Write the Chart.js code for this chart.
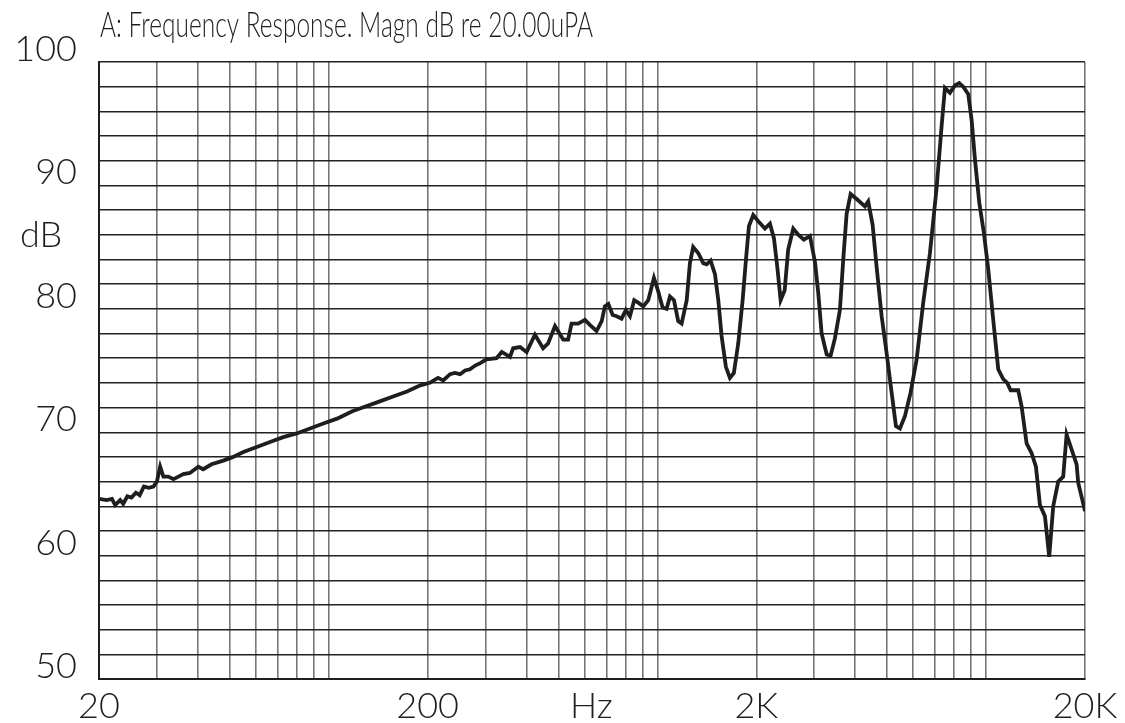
<!DOCTYPE html>
<html>
<head>
<meta charset="utf-8">
<script src="https://cdn.jsdelivr.net/npm/chart.js@4.4.1/dist/chart.umd.min.js"></script>
<style>
    html, body { margin: 0; padding: 0; background: #fff; }
    #wrap { width: 1125px; height: 723px; position: relative; }
</style>
</head>
<body>
<div id="wrap"><canvas id="fr-chart"></canvas></div>
<script>
// ── Data ────────────────────────────────────────────────────────────────────
const freqs = [
    20, 21.1, 21.9, 22.4, 23.2, 23.7, 24.4, 25.1, 25.9, 26.6, 27.4, 28.3, 29.3, 30.0,
    30.7, 31.4, 32.5, 33.7, 34.9, 36.1, 37.8, 40.1, 41.5, 44.0, 47.8, 51.2, 55.0, 60.4,
    66.3, 72.7, 79.9, 87.7, 96.3, 106, 118, 130, 143, 157, 173, 190, 203, 215, 223, 234,
    242, 251, 260, 269, 279, 289, 302, 324, 336, 356, 364, 382, 400, 424, 449, 465, 488,
    517, 535, 548, 574, 602, 623, 653, 677, 692, 709, 731, 752, 778, 802, 825, 850, 874,
    906, 938, 976, 1006, 1037, 1067, 1092, 1123, 1157, 1185, 1228, 1256, 1285, 1332,
    1379, 1412, 1452, 1497, 1532, 1568, 1616, 1662, 1709, 1762, 1817, 1860, 1899, 1957,
    2027, 2124, 2200, 2263, 2316, 2371, 2439, 2500, 2590, 2682, 2791, 2912, 3016, 3086,
    3160, 3274, 3366, 3468, 3592, 3677, 3765, 3872, 4039, 4280, 4380, 4517, 4645, 4812,
    4983, 5161, 5318, 5470, 5664, 5893, 6148, 6439, 6748, 7072, 7324, 7497, 7764, 8039,
    8286, 8522, 8827, 9038, 9252, 9536, 9854, 10154, 10516, 10891, 11279, 11599, 11876,
    12526, 12826, 13285, 13760, 14182, 14586, 15103, 15566, 16008, 16578, 17170, 17580,
    18207, 18860, 19070, 20000
];
const levels = [
    64.6, 64.5, 64.6, 64.1, 64.5, 64.2, 64.8, 64.7, 65.1, 64.9, 65.6, 65.5, 65.6, 66.0,
    67.2, 66.4, 66.4, 66.2, 66.4, 66.6, 66.7, 67.2, 67.0, 67.4, 67.7, 68.0, 68.4, 68.8,
    69.2, 69.6, 69.9, 70.3, 70.7, 71.1, 71.7, 72.1, 72.5, 72.9, 73.3, 73.8, 74.0, 74.4, 74.2, 74.7,
    74.8, 74.7, 75.0, 75.1, 75.4, 75.6, 75.9, 76.0, 76.5, 76.1, 76.8, 76.9, 76.5, 77.9, 76.8, 77.2, 78.6,
    77.5, 77.5, 78.8, 78.8, 79.1, 78.7, 78.2, 79.0, 80.2, 80.4, 79.5, 79.4, 79.2, 79.9, 79.4, 80.7, 80.5,
    80.2, 80.7, 82.5, 81.4, 80.1, 80.0, 81.0, 80.7, 79.0, 78.8, 80.7, 83.7, 85.0, 84.5,
    83.7, 83.6, 83.9, 82.8, 80.7, 77.8, 75.3, 74.4, 74.8, 77.2, 80.7, 84.0, 86.7, 87.6,
    87.1, 86.5, 86.9, 85.7, 83.4, 80.7, 81.5, 84.8, 86.5, 86.0, 85.6, 85.9, 83.8, 81.3,
    78.0, 76.3, 76.2, 77.6, 79.9, 84.0, 87.7, 89.3, 88.9, 88.3, 88.7, 86.8, 83.4, 79.4,
    76.4, 73.2, 70.5, 70.3, 71.3, 73.2, 75.9, 80.5, 84.5, 89.8, 94.8, 97.9, 97.5, 98.1,
    98.3, 98.0, 97.4, 95.3, 92.1, 88.6, 86.1, 83.2, 79.1, 75.1, 74.3, 74.0, 73.4,
    73.4, 72.1, 69.1, 68.3, 67.2, 64.1, 63.2, 59.9, 64.0, 66.0, 66.4, 69.8,
    68.6, 67.4, 65.9, 63.6
];

// vertical grid at every 1..9 step of each decade, 20 Hz to 20 kHz
const gridFreqs = [
    20, 30, 40, 50, 60, 70, 80, 90, 100,
    200, 300, 400, 500, 600, 700, 800, 900, 1000,
    2000, 3000, 4000, 5000, 6000, 7000, 8000, 9000, 10000, 20000
];
const xTickValues = [20, 200, 2000, 20000];
const xTickLabels = ['20', '200', '2K', '20K'];
const yTickValues = [100, 90, 80, 70, 60, 50];

const titleText = 'A: Frequency Response. Magn dB re 20.00uPA';
const xUnit = 'Hz';
const yUnit = 'dB';

const INK = '#1e1e1e';
const LABEL_FONT = '300 36px Lato';

// ── Plotter-style text drawn around the frame ─────────────────────────────
const plotterLabels = {
    id: 'plotterLabels',
    afterDraw(chart) {
        const { ctx, chartArea, scales: { x, y } } = chart;
        ctx.save();
        ctx.fillStyle = INK;
        ctx.font = LABEL_FONT;
        ctx.textBaseline = 'alphabetic';

        // y labels sit just above their grid line
        ctx.textAlign = 'right';
        yTickValues.forEach(v => ctx.fillText(String(v), chartArea.left - 22, y.getPixelForValue(v) - 1));

        ctx.textAlign = 'left';
        ctx.fillText(yUnit, 20, y.getPixelForValue(84.5) - 6);

        // x labels centred under their grid line
        ctx.textAlign = 'center';
        xTickValues.forEach((v, i) => ctx.fillText(xTickLabels[i], x.getPixelForValue(v), chartArea.bottom + 39));
        ctx.fillText(xUnit, x.getPixelForValue(630), chartArea.bottom + 39);

        // condensed title
        ctx.font = '300 35px Lato';
        ctx.textAlign = 'left';
        const w = ctx.measureText(titleText).width;
        ctx.translate(chartArea.left + 1, 37);
        ctx.scale(493 / w, 1);
        ctx.fillText(titleText, 0, 0);
        ctx.restore();
    }
};

new Chart(document.getElementById('fr-chart'), {
    type: 'scatter',
    data: {
        datasets: [{
            data: freqs.map((f, i) => ({ x: f, y: levels[i] })),
            showLine: true,
            borderColor: INK,
            borderWidth: 3.8,
            pointRadius: 0,
            tension: 0,
        }],
    },
    options: {
        responsive: true,
        maintainAspectRatio: false,
        animation: false,
        layout: { padding: { left: 99, right: 40, top: 62, bottom: 44 } },
        plugins: {
            legend: { display: false },
            tooltip: { enabled: false },
        },
        scales: {
            x: {
                type: 'logarithmic',
                min: 20,
                max: 20000,
                afterBuildTicks: (scale) => { scale.ticks = gridFreqs.map(v => ({ value: v })); },
                ticks: { display: false },
                grid: { color: '#777', lineWidth: 1.6, drawTicks: false },
                border: { display: true, color: INK, width: 2 },
            },
            y: {
                min: 50,
                max: 100,
                ticks: { display: false, stepSize: 2 },
                grid: { color: '#222', lineWidth: 1.4, drawTicks: false },
                border: { display: true, color: INK, width: 2 },
            },
        },
    },
    plugins: [plotterLabels],
});
</script>
</body>
</html>
